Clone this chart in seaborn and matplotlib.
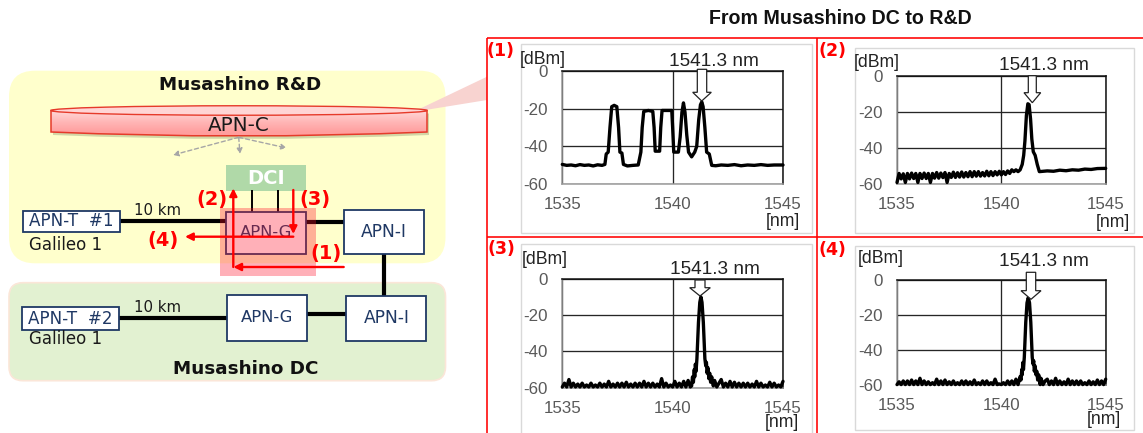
import numpy as np
import seaborn as sns
import matplotlib
matplotlib.use("Agg")
import matplotlib.pyplot as plt
from matplotlib.patches import FancyBboxPatch, Rectangle, Polygon, Ellipse, PathPatch
from matplotlib.path import Path
from matplotlib.colors import LinearSegmentedColormap

# ---- data ----
x_ticks = [1535, 1540, 1545]
x_tick_labels = ["1535", "1540", "1545"]
y_ticks = [0, -20, -40, -60]
y_tick_labels = ["0", "-20", "-40", "-60"]

p1_x = [1535.0,1535.2,1535.4,1535.6,1535.8,1536.0,1536.2,1536.4,1536.6,1536.8,1536.93,1536.99,1537.08,1537.16,1537.24,1537.35,1537.47,1537.55,1537.61,1537.7,
        1537.77,1537.95,1538.2,1538.44,1538.56,1538.62,1538.69,1538.9,1539.1,1539.16,1539.21,1539.41,1539.46,1539.52,
        1539.96,1540.0,1540.05,1540.26,1540.34,1540.42,1540.49,1540.56,1540.64,1540.72,1540.86,1541.0,1541.09,1541.18,1541.26,1541.32,1541.38,1541.46,1541.54,
        1541.66,1541.77,1541.95,1542.2,1542.5,1542.8,1543.1,1543.4,1543.7,1544.0,1544.3,1544.6,1545.0]
p1_y = [-49.5,-50,-49.8,-50.2,-49.6,-50,-49.8,-50.3,-49.7,-50,-49.5,-44,-43,-30,-19,-18.3,-19,-30,-43,-43.5,
        -49.5,-50.3,-50,-49.8,-43,-30,-21.5,-21,-21.5,-30,-42.5,-42.5,-30,-21,
        -21,-30,-43,-43,-35,-22,-17,-22,-34,-43,-45.5,-43,-40,-26,-18,-16.5,-19,-30,-43,
        -44,-50,-50.2,-49.8,-50,-49.6,-50.2,-49.8,-50,-49.6,-50,-49.8,-49.8]

p2_x = [1535.0,1535.1,1535.2,1535.3,1535.4,1535.5,1535.6,1535.7,1535.8,1535.9,1536.0,1536.1,1536.2,1536.3,1536.4,1536.5,
        1536.6,1536.7,1536.8,1536.9,1537.0,1537.1,1537.2,1537.3,1537.4,1537.5,1537.6,1537.7,1537.8,1537.9,1538.0,1538.1,
        1538.2,1538.3,1538.4,1538.5,1538.6,1538.7,1538.8,1538.9,1539.0,1539.1,1539.2,1539.3,1539.4,1539.5,1539.6,1539.7,
        1539.8,1539.9,1540.0,1540.1,1540.2,1540.3,1540.4,1540.5,1540.6,1540.7,1540.8,1540.9,1541.0,1541.07,1541.13,1541.2,
        1541.27,1541.33,1541.4,1541.46,1541.53,1541.62,1541.72,1541.82,1542.2,1542.5,1542.8,1543.1,1543.4,1543.7,1544.0,1544.3,1544.6,1545.0]
p2_y = [-59,-54,-57,-54.2,-59,-54,-57,-53.8,-56.8,-54,-59,-54,-56.8,-53.8,-56.8,-54,
        -59,-54,-56.6,-53.5,-56.6,-53.8,-56.3,-53.5,-59,-54,-56.2,-53.3,-56.2,-53.6,-56,-53.2,
        -56,-53.5,-55.8,-53,-55.8,-53,-55.5,-53,-55.5,-53.5,-55.4,-52.8,-55.3,-53,-55.2,-53,
        -54.8,-52.8,-54.8,-53,-54.6,-52.6,-54,-52,-53,-52,-53,-52,-49,-44,-36,-22,
        -15.5,-16,-24,-35,-42,-44,-49,-53,-52.6,-52.8,-52.2,-52.5,-52,-52.2,-51.6,-51.8,-51.3,-51.2]

p3_x = [1535.0,1535.1,1535.2,1535.3,1535.4,1535.5,1535.6,1535.7,1535.8,1535.9,1536.0,1536.1,1536.2,1536.3,1536.4,1536.5,
        1536.6,1536.7,1536.8,1536.9,1537.0,1537.1,1537.2,1537.3,1537.4,1537.5,1537.6,1537.7,1537.8,1537.9,1538.0,1538.1,
        1538.2,1538.3,1538.4,1538.5,1538.6,1538.7,1538.8,1538.9,1539.0,1539.1,1539.2,1539.3,1539.4,1539.5,1539.6,1539.7,
        1539.8,1539.9,1540.0,1540.1,1540.2,1540.3,1540.4,1540.5,1540.6,1540.7,1540.8,1540.86,1540.9,1540.94,1540.98,1541.0,1541.03,1541.06,
        1541.1,1541.17,1541.23,1541.28,1541.33,1541.39,1541.46,1541.5,1541.53,1541.56,1541.6,1541.64,1541.68,1541.72,1541.77,1541.84,1541.9,1542.0,1542.1,
        1542.2,1542.3,1542.4,1542.5,1542.6,1542.7,1542.8,1542.9,1543.0,1543.1,1543.2,1543.3,1543.4,1543.5,1543.6,1543.7,
        1543.8,1543.9,1544.0,1544.1,1544.2,1544.3,1544.4,1544.5,1544.6,1544.7,1544.8,1544.9,1545.0]
p3_y = [-59.6,-57.5,-59.6,-55.5,-59.6,-57.5,-59.6,-58,-59.6,-57.5,-59.6,-58.5,-59.6,-57.5,-59.6,-58.5,
        -59.6,-57.5,-59.6,-58,-59.6,-56.5,-59.6,-58,-59.6,-57.5,-59.6,-57.5,-59.6,-57,-59.6,-58,
        -59.6,-57.5,-59.6,-57.5,-59.6,-56.5,-59.6,-57.5,-59.6,-57.5,-59.6,-58,-59.6,-55,-59.6,-57.5,
        -59.6,-58.5,-59.6,-56.5,-59.6,-57.5,-59.6,-56.5,-59.6,-56,-59.6,-59,-54,-57,-50,-54,-47,-51,
        -44,-24,-13,-10,-13,-24,-44,-48,-46,-52,-49,-55,-52,-57,-54,-59,-56,-59.6,-57.5,
        -55.5,-59.6,-57.5,-59.6,-56.5,-59.6,-57,-59.6,-57.5,-59.6,-57.5,-59.6,-57.5,-59.6,-58,-59.6,
        -56.5,-59.6,-57.5,-59.6,-58.5,-59.6,-57,-59.6,-57.5,-59.6,-58.5,-59.6,-56.5]

p4_x = [1535.0,1535.1,1535.2,1535.3,1535.4,1535.5,1535.6,1535.7,1535.8,1535.9,1536.0,1536.1,1536.2,1536.3,1536.4,1536.5,
        1536.6,1536.7,1536.8,1536.9,1537.0,1537.1,1537.2,1537.3,1537.4,1537.5,1537.6,1537.7,1537.8,1537.9,1538.0,1538.1,
        1538.2,1538.3,1538.4,1538.5,1538.6,1538.7,1538.8,1538.9,1539.0,1539.1,1539.2,1539.3,1539.4,1539.5,1539.6,1539.7,
        1539.8,1539.9,1540.0,1540.1,1540.2,1540.3,1540.4,1540.5,1540.6,1540.7,1540.8,1540.86,1540.9,1540.94,1540.98,1541.0,1541.03,1541.06,
        1541.1,1541.17,1541.23,1541.29,1541.35,1541.41,1541.48,1541.52,1541.55,1541.58,1541.62,1541.66,1541.7,1541.74,1541.79,1541.86,1541.9,1542.0,1542.1,
        1542.2,1542.3,1542.4,1542.5,1542.6,1542.7,1542.8,1542.9,1543.0,1543.1,1543.2,1543.3,1543.4,1543.5,1543.6,1543.7,
        1543.8,1543.9,1544.0,1544.1,1544.2,1544.3,1544.4,1544.5,1544.6,1544.7,1544.8,1544.9,1545.0]
p4_y = [-59.6,-58,-59.6,-57.5,-59.6,-57.5,-59.6,-57,-59.6,-57.5,-59.6,-56,-59.6,-57.5,-59.6,-58,
        -59.6,-58.5,-59.6,-56.5,-59.6,-57.5,-59.6,-57,-59.6,-58,-59.6,-57.5,-59.6,-58.5,-59.6,-57.5,
        -59.6,-57.5,-59.6,-58,-59.6,-57,-59.6,-58.5,-59.6,-57.5,-59.6,-57.5,-59.6,-58.5,-59.6,-56.5,
        -59.6,-59.2,-59.6,-58.5,-59.6,-57.5,-59.6,-57.5,-59.6,-56.5,-59.6,-57,-55,-57,-51,-54,-47,-51,
        -44,-24,-13,-10,-13,-24,-44,-48,-46,-52,-49,-54,-52,-57,-54,-59.6,-56,-59.6,-57.5,
        -56.5,-59.6,-57.5,-59.6,-56,-59.6,-57.5,-59.6,-58,-59.6,-56.5,-59.6,-57.5,-59.6,-57.5,-59.6,
        -57.5,-59.6,-58.5,-59.6,-57.5,-59.6,-58,-59.6,-57,-59.6,-57.5,-59.6,-56.5]

# ---- figure in pixel layout ----
W, H = 1143, 433
sns.set_theme(style="white", rc={"axes.facecolor": "none"})
plt.rcParams["font.family"] = ["Liberation Sans", "DejaVu Sans"]
fig = plt.figure(figsize=(W / 100, H / 100), dpi=100, facecolor="white")


def add_px_axes(x0, x1, y0, y1, **kw):
    return fig.add_axes([x0 / W, 1 - y1 / H, (x1 - x0) / W, (y1 - y0) / H], **kw)


panels = [
    (p1_x, p1_y, (562.3, 783, 70.7, 184.3)),
    (p2_x, p2_y, (897, 1105.7, 75.7, 184.3)),
    (p3_x, p3_y, (562.3, 783, 278.7, 387.7)),
    (p4_x, p4_y, (897, 1105.7, 280, 385.3)),
]
for xs, ys, box in panels:
    ax = add_px_axes(*box)
    ax.set_zorder(1)
    sns.lineplot(x=xs, y=ys, ax=ax, color="black", linewidth=2.4, estimator=None,
                 sort=False, zorder=3, clip_on=False)
    ax.set_xlim(1535, 1545)
    ax.set_ylim(-60, 0)
    ax.set_xticks(x_ticks, x_tick_labels)
    ax.set_yticks(y_ticks, y_tick_labels)
    ax.tick_params(axis="x", length=0, pad=9.5, labelsize=12.2, labelcolor="#595959")
    ax.tick_params(axis="y", length=0, pad=10.5, labelsize=12.2, labelcolor="#595959")
    ax.grid(True, color="#262626", linewidth=0.95)
    ax.set_axisbelow(True)
    ax.set_xlabel("")
    ax.set_ylabel("")
    for side, col in [("top", "#111111"), ("right", "#111111"), ("left", "#9a9a9a"), ("bottom", "#9a9a9a")]:
        ax.spines[side].set_visible(True)
        ax.spines[side].set_color(col)
        ax.spines[side].set_linewidth(1.1)

# ---- overlay: frames, annotations and the network diagram ----
ov = fig.add_axes([0, 0, 1, 1])
ov.set_zorder(5)
ov.patch.set_alpha(0)
ov.axis("off")

# chart frames
for x0, x1, y0, y1 in [(520.7, 811.7, 44.3, 233.3), (855, 1134, 48, 233),
                       (520.7, 811.7, 244.3, 440), (855, 1134, 245.7, 430)]:
    ov.add_patch(Rectangle((x0, y0), x1 - x0, y1 - y0, fc="none", ec="#D9D9D9", lw=1.0, zorder=2))

# red panel grid
for xa, xb, ya, yb in [(487, 1143, 38, 38), (487, 1143, 236.5, 236.5), (487, 487, 38, 433), (817, 817, 38, 433)]:
    ov.plot([xa, xb], [ya, yb], color="#FF0000", lw=1.15, zorder=3, solid_capstyle="butt")

# block arrows
arrows = [(697.3, 706.7, 69.3, 92.3, 692.7, 711.3, 701.7, 101),
          (1028.3, 1036.3, 75.7, 92.7, 1024, 1040.7, 1032.3, 102.7),
          (695, 705, 280, 287.7, 689.7, 710.3, 700, 296),
          (1026.3, 1035.7, 272.3, 290.7, 1021, 1041, 1031, 299.3)]
for sx0, sx1, sy0, sy1, hx0, hx1, tx, ty in arrows:
    ov.add_patch(Polygon([(sx0, sy0), (sx1, sy0), (sx1, sy1), (hx1, sy1), (tx, ty), (hx0, sy1), (sx0, sy1)],
                         closed=True, fc="white", ec="#222222", lw=0.9, zorder=6))

# chart texts
ov.text(840.5, 19, "From Musashino DC to R&D", ha="center", va="center", fontsize=14.1,
        fontweight="bold", color="#111111")
for x, y in [(714.3, 61), (1043.7, 65.7), (715.3, 269), (1044.3, 261.7)]:
    ov.text(x, y, "1541.3 nm", ha="center", va="center", fontsize=13.7, color="#222222", zorder=7)
for x, y in [(542.7, 59), (876.3, 62.3), (545, 259.3), (880.3, 258.7)]:
    ov.text(x, y, "[dBm]", ha="center", va="center", fontsize=12.7, color="#222222", zorder=7)
for x, y in [(783, 222), (1112.7, 222.7), (782, 422.7), (1104, 419)]:
    ov.text(x, y, "[nm]", ha="center", va="center", fontsize=12.7, color="#222222", zorder=7)
for x, y, s in [(501, 51, "(1)"), (832, 51, "(2)"), (501, 249, "(3)"), (832, 250, "(4)")]:
    ov.text(x, y, s, ha="center", va="center", fontsize=12.5, fontweight="bold", color="#FF0000",
            family="DejaVu Sans", zorder=7)

# diagram backgrounds
ov.add_patch(FancyBboxPatch((9, 70.7), 436.5, 192.6, boxstyle="round,pad=0,rounding_size=26",
                            fc="#FFFFCC", ec="none", zorder=1))
ov.add_patch(FancyBboxPatch((9, 282.7), 436.5, 98, boxstyle="round,pad=0,rounding_size=14",
                            fc="#E2F1D1", ec="#FBE6D8", lw=1.2, zorder=1))
ov.add_patch(Polygon([(413, 112), (487, 76.7), (487, 100)], closed=True, fc="#F8D3D0", ec="none", zorder=1.2))

# APN-C cylinder with gradient
verts = [(51, 110.5), (51, 132), (239, 140), (427, 132), (427, 110.5), (51, 110.5)]
codes = [Path.MOVETO, Path.LINETO, Path.CURVE3, Path.CURVE3, Path.LINETO, Path.CLOSEPOLY]
cyl = Path(verts, codes)
shadow = Path([(x + 2, y + 3) for x, y in verts], codes)
ov.add_patch(PathPatch(shadow, fc="#6f7a50", ec="none", alpha=0.3, zorder=1.9))
cmap = LinearSegmentedColormap.from_list("cyl", ["#FFD2D2", "#FFB5B5", "#FF9E9E"])
im = ov.imshow(np.array([[0.0], [0.5], [1.0]]), cmap=cmap, extent=(51, 427, 137, 108), aspect="auto",
               zorder=2, interpolation="bilinear")
clip = PathPatch(cyl, transform=ov.transData, fc="none", ec="#E63A2A", lw=1.1, zorder=2.1)
ov.add_patch(clip)
im.set_clip_path(clip)
ov.add_patch(Ellipse((239, 110.5), 376, 9.5, fc="#FFD5D5", ec="#E63A2A", lw=1.0, zorder=2.2))
ov.text(239, 125.7, "APN-C", ha="center", va="center", fontsize=14.3, family="DejaVu Sans", color="#1a1a1a", zorder=3)

# DCI block
ov.add_patch(Rectangle((225.7, 165), 80.3, 26, fc="#B0D9A8", ec="none", zorder=2))
ov.text(266, 178, "DCI", ha="center", va="center", fontsize=14, fontweight="bold", family="DejaVu Sans",
        color="white", zorder=3)

# links
for xa, ya, xb, yb in [(119, 221, 227, 221), (306, 222.3, 344, 222.3), (384, 253, 384, 296),
                       (118, 317.7, 228, 317.7), (307, 314, 347, 314)]:
    ov.plot([xa, xb], [ya, yb], color="black", lw=3, zorder=3, solid_capstyle="butt")
for x in (251.7, 278.3):
    ov.plot([x, x], [190, 212], color="black", lw=1.4, zorder=3, solid_capstyle="butt")

# dashed grey arrows
for tx, ty in [(173, 155), (240, 154), (286.7, 148)]:
    ov.annotate("", xy=(tx, ty), xytext=(238.7, 137.3),
                arrowprops=dict(arrowstyle="-|>", color="#A6A6A6", lw=1.0, linestyle=(0, (3, 2)),
                                mutation_scale=8, shrinkA=0, shrinkB=0), zorder=3)

# boxes
navy = "#1F3864"
boxes = [(23.3, 119.7, 211, 232, "APN-T  #1", 12.1), (21.7, 118.7, 307.3, 330, "APN-T  #2", 12.1),
         (227.3, 307, 295, 340.7, "APN-G", 11.8), (343.7, 424, 209.7, 253.7, "APN-I", 12.3),
         (346.3, 426.3, 295.7, 340.7, "APN-I", 12.3), (226.3, 306.3, 212, 253.7, "APN-G", 11.8)]
for x0, x1, y0, y1, s, fs in boxes:
    ov.add_patch(Rectangle((x0, y0), x1 - x0, y1 - y0, fc="white", ec=navy, lw=1.3, zorder=3.5))
    ov.text((x0 + x1) / 2, (y0 + y1) / 2, s, ha="center", va="center", fontsize=fs,
            family="DejaVu Sans", color=navy, zorder=3.6)

# diagram labels
for x, y in [(157.7, 210.7), (157.3, 307)]:
    ov.text(x, y, "10 km", ha="center", va="center", fontsize=10.8, family="DejaVu Sans", color="#1a1a1a", zorder=4)
for x, y in [(66, 245), (66, 339.3)]:
    ov.text(x, y, "Galileo 1", ha="center", va="center", fontsize=12, family="DejaVu Sans", color="#1a1a1a", zorder=4)
ov.text(240.3, 85, "Musashino R&D", ha="center", va="center", fontsize=13.2, fontweight="bold",
        family="DejaVu Sans", color="#111111", zorder=4)
ov.text(246, 369, "Musashino DC", ha="center", va="center", fontsize=13.2, fontweight="bold",
        family="DejaVu Sans", color="#111111", zorder=4)

# pink highlight
ov.add_patch(Rectangle((220, 208.3), 95.7, 67.4, fc="#FF1028", ec="none", alpha=0.33, zorder=4.5))

# red route arrows
for (xa, ya), (xb, yb) in [(((343.7, 267), (233.3, 267))), (((233.3, 267), (233.3, 188.3))),
                           (((293.3, 190), (293.3, 234))), (((293.3, 236.7), (185, 236.7)))]:
    ov.annotate("", xy=(xb, yb), xytext=(xa, ya),
                arrowprops=dict(arrowstyle="-|>", color="#FF0000", lw=1.7, mutation_scale=11,
                                shrinkA=0, shrinkB=0), zorder=5)
for x, y, s in [(325.7, 254, "(1)"), (212, 199.3, "(2)"), (314.7, 200, "(3)"), (163, 240.7, "(4)")]:
    ov.text(x, y, s, ha="center", va="center", fontsize=13.9, fontweight="bold", family="DejaVu Sans",
            color="#FF0000", zorder=6)

ov.set_xlim(0, W)
ov.set_ylim(H, 0)

fig.savefig("out.png", dpi=100)
